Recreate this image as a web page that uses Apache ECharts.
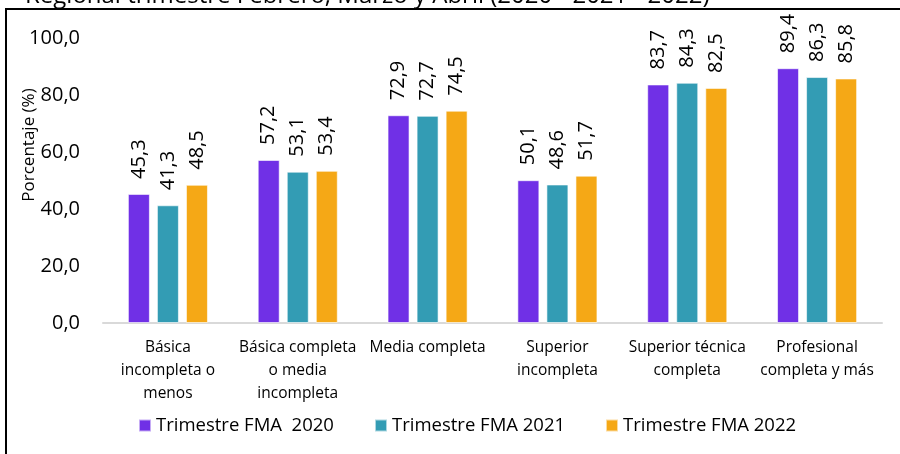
<!DOCTYPE html>
<html>
<head>
<meta charset="utf-8">
<script src="https://cdn.jsdelivr.net/npm/echarts@6/dist/echarts.min.js"></script>
<style>
  html, body { margin: 0; padding: 0; background: #fff; }
  #chart { width: 900px; height: 454px; }
</style>
</head>
<body>
<div id="chart"></div>
<script>
const categories = [
  'Básica\nincompleta o\nmenos',
  'Básica completa\no media\nincompleta',
  'Media completa',
  'Superior\nincompleta',
  'Superior técnica\ncompleta',
  'Profesional\ncompleta y más'
]
const seriesNames = ['Trimestre FMA  2020', 'Trimestre FMA 2021', 'Trimestre FMA 2022']
const fma2020 = [45.3, 57.2, 72.9, 50.1, 83.7, 89.4]
const fma2021 = [41.3, 53.1, 72.7, 48.6, 84.3, 86.3]
const fma2022 = [48.5, 53.4, 74.5, 51.7, 82.5, 85.8]
const yTicks = [0, 20, 40, 60, 80, 100]

const colors = ['#7030E6', '#339CB4', '#F5A816']
const font = 'Open Sans'

const chart = echarts.init(document.getElementById('chart'))

const fmt = v => v.toFixed(1).replace('.', ',')

const makeSeries = (name, data) => ({
  name,
  type: 'bar',
  data,
  barWidth: 22,
  barGap: '32%',
  itemStyle: { borderColor: 'rgba(255,255,255,0.6)', borderWidth: 1 },
  label: {
    show: true,
    position: 'top',
    rotate: 90,
    align: 'left',
    verticalAlign: 'middle',
    distance: 15,
    color: '#000',
    fontFamily: font,
    fontSize: 20,
    formatter: p => fmt(p.value)
  }
})

const legendAt = (name, left) => ({
  data: [name],
  left,
  top: 411,
  icon: 'rect',
  itemWidth: 12,
  itemHeight: 12,
  itemGap: 5,
  textStyle: { color: '#000', fontFamily: font, fontSize: 18.5 }
})

const option = {
  color: colors,
  animation: false,
  grid: { left: 103, right: 18, top: 38, bottom: 131 },
  legend: [
    legendAt(seriesNames[0], 133),
    legendAt(seriesNames[1], 369),
    legendAt(seriesNames[2], 600)
  ],
  xAxis: {
    type: 'category',
    data: categories,
    axisTick: { show: false },
    axisLine: { lineStyle: { color: '#d9d9d9', width: 2 } },
    axisLabel: {
      color: '#000',
      fontFamily: font,
      fontSize: 15.5,
      lineHeight: 23,
      margin: 13,
      interval: 0,
      verticalAlign: 'top'
    }
  },
  yAxis: {
    type: 'value',
    min: 0,
    max: 100,
    interval: 20,
    splitLine: { show: false },
    axisLine: { show: false },
    axisTick: { show: false },
    axisLabel: {
      color: '#000',
      fontFamily: font,
      fontSize: 20,
      margin: 23,
      formatter: v => yTicks.includes(v) ? fmt(v) : ''
    }
  },
  series: [
    makeSeries(seriesNames[0], fma2020),
    makeSeries(seriesNames[1], fma2021),
    makeSeries(seriesNames[2], fma2022)
  ],
  graphic: [
    {
      type: 'text',
      left: 25,
      top: -16,
      style: {
        text: 'Regional trimestre Febrero, Marzo y Abril (2020 - 2021 - 2022)',
        fill: '#000',
        font: '24px "Open Sans"'
      }
    },
    {
      type: 'rect',
      shape: { x: 0, y: 0, width: 2, height: 460 },
      left: 5,
      top: 8,
      style: { fill: '#000' }
    },
    {
      type: 'rect',
      shape: { x: 0, y: 0, width: 900, height: 2 },
      left: 5,
      top: 8,
      style: { fill: '#000' }
    },
    {
      type: 'text',
      x: 21,
      y: 145,
      rotation: Math.PI / 2,
      style: {
        text: 'Porcentaje (%)',
        fill: '#000',
        font: '17px "Open Sans"',
        align: 'center',
        verticalAlign: 'top'
      }
    }
  ]
}

chart.setOption(option)
</script>
</body>
</html>
